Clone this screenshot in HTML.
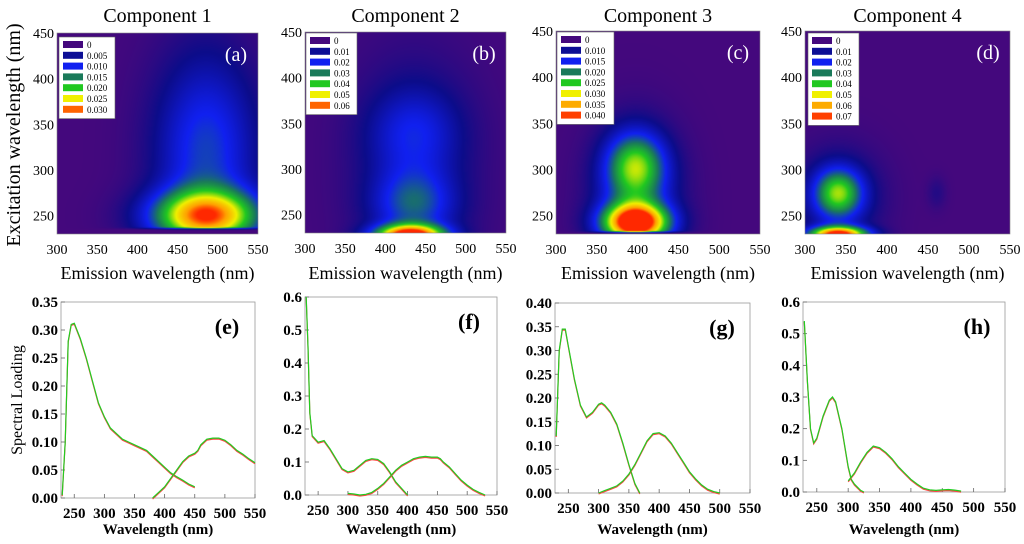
<!DOCTYPE html>
<html><head><meta charset="utf-8"><style>
body{margin:0;background:#fff;width:1024px;height:544px;overflow:hidden;position:relative;font-family:"Liberation Serif",serif}
canvas{position:absolute}
svg{position:absolute;left:0;top:0}
</style></head><body>
<canvas id="h1"></canvas>
<canvas id="h2"></canvas>
<canvas id="h3"></canvas>
<canvas id="h4"></canvas>
<svg id="s" width="1024" height="544"></svg>
<script>
// heatmap peak data: [emission, excitation, amplitude, sigmaEm, sigmaEx]
const peaks1=[[485,250,0.8,48,20],[485,320,0.35,45,75]];
const peaks2=[[430,228,1.0,30,8],[435,262,0.3,35,25],[435,340,0.2,40,35],[435,300,0.12,55,90]];
const peaks3=[[397,243,1.0,28,14],[397,305,0.48,25,25],[397,270,0.3,35,50]];
const peaks4=[[340,230,1.0,25,6],[340,275,0.5,20,18],[340,270,0.2,35,35],[460,275,0.07,8,12]];
const cutoffs=[238,0,234,0];
const legend1=["0","0.005","0.010","0.015","0.020","0.025","0.030"];
const legend2=["0","0.01","0.02","0.03","0.04","0.05","0.06"];
const legend3=["0","0.010","0.015","0.020","0.025","0.030","0.035","0.040"];
const legend4=["0","0.01","0.02","0.03","0.04","0.05","0.06","0.07"];
const emTicks=[300,350,400,450,500,550];
const exTicks=[250,300,350,400,450];
// spectral loading data
const eExX=[230,235,240,245,250,260,270,280,290,300,310,320,330,340,350,360,370,380,390,400,410,420,430,440,450];
const eExY=[0.005,0.1,0.28,0.31,0.312,0.285,0.25,0.21,0.17,0.145,0.125,0.115,0.105,0.1,0.095,0.09,0.085,0.075,0.065,0.055,0.045,0.038,0.032,0.025,0.02];
const eEmX=[380,390,400,410,420,430,440,450,455,460,470,480,490,500,510,520,530,540,550];
const eEmY=[0,0.01,0.02,0.035,0.05,0.065,0.075,0.08,0.085,0.095,0.105,0.107,0.107,0.103,0.095,0.085,0.078,0.07,0.063];
const fExX=[230,233,236,240,250,260,270,280,290,300,310,320,330,340,350,360,370,380,390,400];
const fExY=[0.6,0.45,0.25,0.18,0.16,0.165,0.14,0.11,0.08,0.07,0.075,0.09,0.105,0.11,0.108,0.095,0.07,0.04,0.02,0];
const fEmX=[300,310,320,330,340,350,360,370,380,390,400,410,420,430,440,450,455,460,470,480,490,500,510,520,530];
const fEmY=[0.005,0.003,0,0.002,0.008,0.02,0.035,0.055,0.075,0.09,0.1,0.11,0.115,0.117,0.115,0.115,0.11,0.1,0.085,0.065,0.045,0.03,0.017,0.008,0];
const gExX=[230,235,240,245,250,260,270,280,290,300,305,310,320,330,340,350,360,368];
const gExY=[0.12,0.3,0.345,0.345,0.31,0.24,0.185,0.16,0.17,0.187,0.19,0.185,0.17,0.145,0.105,0.06,0.02,0];
const gEmX=[300,310,320,330,340,350,360,370,380,390,400,410,420,430,440,450,460,470,480,490,500];
const gEmY=[0,0.005,0.01,0.015,0.025,0.04,0.06,0.085,0.11,0.125,0.127,0.12,0.105,0.085,0.065,0.045,0.03,0.017,0.008,0.003,0];
const hExX=[230,235,240,245,250,260,270,275,280,290,300,305,310,320,325];
const hExY=[0.54,0.35,0.2,0.155,0.17,0.24,0.29,0.3,0.285,0.2,0.08,0.04,0.025,0.005,0];
const hEmX=[300,310,320,330,340,350,360,370,380,390,400,410,420,430,440,450,460,470,480];
const hEmY=[0.035,0.06,0.095,0.125,0.145,0.14,0.125,0.105,0.08,0.06,0.04,0.025,0.012,0.007,0.005,0.007,0.008,0.006,0.003];

const NS="http://www.w3.org/2000/svg";const S=document.getElementById('s');
function el(t,a,txt,p){const e=document.createElementNS(NS,t);for(const k in a)e.setAttribute(k,a[k]);if(txt!==undefined)e.textContent=txt;(p||S).appendChild(e);return e;}
const stops=[[0,[68,8,125]],[0.12,[12,12,138]],[0.3,[16,32,240]],[0.45,[26,122,90]],[0.6,[32,200,32]],[0.75,[240,240,0]],[0.9,[255,160,0]],[1,[255,40,0]]];
function cmap(v){v=Math.max(0,Math.min(1,v));for(let i=1;i<stops.length;i++){if(v<=stops[i][0]){const a=stops[i-1],b=stops[i];const t=(v-a[0])/(b[0]-a[0]);return a[1].map((c,j)=>Math.round(c+(b[1][j]-c)*t));}}return stops[stops.length-1][1];}
const topPanels=[{x:57,y:33,w:201,h:201,pk:peaks1,lg:legend1,lx:59,ly:37,lw:56,lab:"(a)",t:"Component 1"},
{x:305,y:32,w:201,h:201,pk:peaks2,lg:legend2,lx:306,ly:33,lw:51,lab:"(b)",t:"Component 2"},
{x:556,y:31,w:204,h:203,pk:peaks3,lg:legend3,lx:557,ly:32,lw:57,lab:"(c)",t:"Component 3"},
{x:805,y:31,w:205,h:203,pk:peaks4,lg:legend4,lx:808,ly:33,lw:51,lab:"(d)",t:"Component 4"}];
topPanels.forEach((p,i)=>{
  const c=document.getElementById('h'+(i+1));c.style.left=p.x+'px';c.style.top=p.y+'px';c.width=p.w;c.height=p.h;
  const ctx=c.getContext('2d');const img=ctx.createImageData(p.w,p.h);
  for(let py=0;py<p.h;py++){const ex=450-(py/p.h)*220;for(let px=0;px<p.w;px++){const em=300+(px/p.w)*250;let v=0;
    p.pk.forEach(k=>{v+=k[2]*Math.exp(-0.5*((em-k[0])/k[3])**2-0.5*((ex-k[1])/k[4])**2);});
    if(cutoffs[i]&&ex<cutoffs[i])v*=Math.max(0,1-(cutoffs[i]-ex)/3);
    const col=cmap(v);const o=(py*p.w+px)*4;img.data[o]=col[0];img.data[o+1]=col[1];img.data[o+2]=col[2];img.data[o+3]=255;}}
  ctx.putImageData(img,0,0);
  const X=v=>p.x+(v-300)/250*p.w, Y=v=>p.y+p.h-(v-230)/220*p.h;
  el('rect',{x:p.x,y:p.y,width:p.w,height:p.h,fill:'none',stroke:'#888','stroke-width':0.6,});
  el('text',{x:p.x+p.w/2,y:22,'text-anchor':'middle','font-size':20,},p.t);
  emTicks.forEach(t=>el('text',{x:X(t),y:p.y+p.h+20,'text-anchor':'middle','font-size':14,},t));
  exTicks.forEach(t=>el('text',{x:p.x-3,y:Y(t)+5,'text-anchor':'end','font-size':14,},t));
  el('text',{x:p.x+p.w/2,y:279,'text-anchor':'middle','font-size':18,},"Emission wavelength (nm)");
  el('text',{x:p.x+p.w-22,y:p.y+28,'text-anchor':'middle','font-size':20,fill:'#fff',},p.lab);
  const g=el('g',{});
  el('rect',{x:p.lx,y:p.ly,width:p.lw,height:p.lg.length*10.8+6,fill:'#fff',stroke:'#666','stroke-width':0.6},undefined,g);
  p.lg.forEach((l,j)=>{
    const ent=el('g',{},undefined,g);
    const cc=cmap(j===0?0:(p.lg.length===7?[0,0.14,0.3,0.45,0.6,0.75,0.95][j]:[0,0.14,0.3,0.45,0.6,0.75,0.88,0.98][j]));
    el('rect',{x:p.lx+4,y:p.ly+4+j*10.8,width:20,height:7,fill:`rgb(${cc.join(',')})`},undefined,ent);
    el('text',{x:p.lx+28,y:p.ly+11+j*10.8,'font-size':9},l,ent);});
});
el('text',{x:0,y:0,transform:'translate(20,135) rotate(-90)','text-anchor':'middle','font-size':20,},"Excitation wavelength (nm)");
// line plots
const bot=[{x:61,y:302,w:194,h:196,ymax:0.35,step:0.05,dec:2,ex:[eExX,eExY],em:[eEmX,eEmY],lab:"(e)"},
{x:305,y:297,w:192,h:198,ymax:0.6,step:0.1,dec:1,ex:[fExX,fExY],em:[fEmX,fEmY],lab:"(f)"},
{x:555,y:303,w:195,h:190,ymax:0.40,step:0.05,dec:2,ex:[gExX,gExY],em:[gEmX,gEmY],lab:"(g)"},
{x:803,y:302,w:202,h:190,ymax:0.6,step:0.1,dec:1,ex:[hExX,hExY],em:[hEmX,hEmY],lab:"(h)"}];
const wTicks=[250,300,350,400,450,500,550];
bot.forEach(p=>{
  const X=v=>p.x+(v-228)/322*p.w, Y=v=>p.y+p.h-v/p.ymax*p.h;
  el('rect',{x:p.x,y:p.y,width:p.w,height:p.h,fill:'none',stroke:'#999','stroke-width':0.8,});
  const n=Math.round(p.ymax/p.step);
  for(let k=0;k<=n;k++){const v=k*p.step;
    el('line',{x1:p.x,x2:p.x+4,y1:Y(v),y2:Y(v),stroke:'#666','stroke-width':0.8});
    el('text',{x:p.x-3,y:Y(v)+5,'text-anchor':'end','font-size':15,'font-weight':'bold',},v.toFixed(p.dec));}
  wTicks.forEach(t=>{el('line',{x1:X(t),x2:X(t),y1:p.y+p.h,y2:p.y+p.h-4,stroke:'#666','stroke-width':0.8});
    el('text',{x:X(t),y:p.y+p.h+20,'text-anchor':'middle','font-size':15,'font-weight':'bold',},t);});
  el('text',{x:p.x+p.w/2,y:534,'text-anchor':'middle','font-size':15,'font-weight':'bold',},"Wavelength (nm)");
  el('text',{x:p.x+p.w-28,y:p.y+32,'text-anchor':'middle','font-size':22,'font-weight':'bold',},p.lab);
  [['ex','excitation'],['em','emission']].forEach(([k,nm])=>{
    const xs=p[k][0],ys=p[k][1];
    const d=xs.map((x,i)=>(i?'L':'M')+X(x).toFixed(1)+','+Y(ys[i]).toFixed(1)).join('');
    el('path',{d:d,fill:'none',stroke:'#f44','stroke-width':1.2,transform:'translate(0,1)',});
    el('path',{d:d,fill:'none',stroke:'#2c2','stroke-width':1.2,});
  });
});
el('text',{x:0,y:0,transform:'translate(22,400) rotate(-90)','text-anchor':'middle','font-size':16,},"Spectral Loading");
</script></body></html>
